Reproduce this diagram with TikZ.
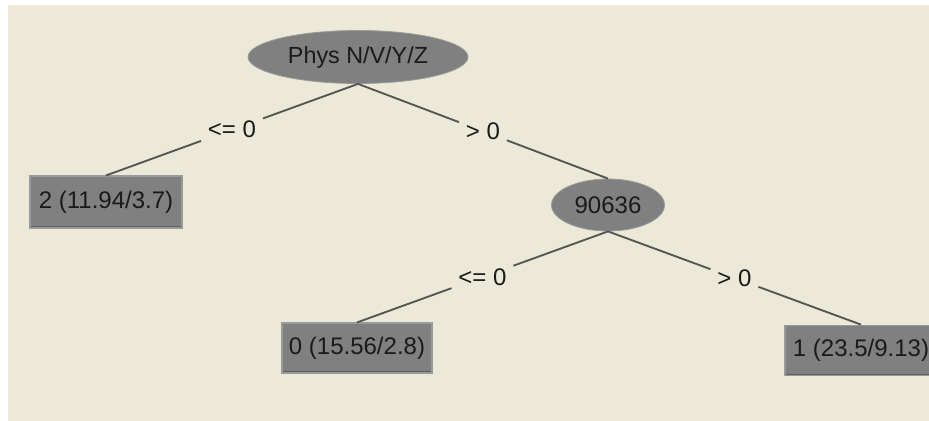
\documentclass[tikz,border=0pt]{standalone}
\usepackage{fontspec}
\setmainfont{Liberation Sans}
\usetikzlibrary{shapes.geometric}
\definecolor{bg}{HTML}{ECE9D8}
\definecolor{nodefill}{HTML}{808080}
\definecolor{nodeedge}{HTML}{9A9A9A}
\definecolor{darkedge}{HTML}{5E5E5E}
\definecolor{edgecol}{HTML}{555555}
\definecolor{txt}{HTML}{1A1A1A}
\tikzset{
  every node/.style={font=\fontsize{18}{21}\selectfont, text=txt},
  splitnode/.style={ellipse, fill=nodefill, draw=nodeedge, line width=0.6pt, inner sep=0pt},
  leafnode/.style={rectangle, fill=nodefill, draw=nodeedge, line width=0.8pt, inner sep=0pt,
    path picture={\draw[darkedge, line width=3pt] (path picture bounding box.south west) -- (path picture bounding box.south east);}},
  edgelabel/.style={inner sep=5pt},
  branch/.style={draw=edgecol, line width=1.4pt}
}
\begin{document}
\begin{tikzpicture}[x=0.75pt, y=-0.75pt]
\useasboundingbox (0,0) rectangle (929,421);
\fill[white] (0,0) rectangle (929,421);
\fill[bg] (8,5) rectangle (929,421);

\node[splitnode, minimum width=165pt, minimum height=39.75pt, font=\fontsize{17.5}{21}\selectfont] (root) at (358,57) {Phys N/V/Y/Z};
\node[splitnode, minimum width=84.75pt, minimum height=39pt] (n2) at (608,205) {90636};
\node[leafnode, minimum width=114pt, minimum height=39pt] (leafa) at (106,202) {2 (11.94/3.7)};
\node[leafnode, minimum width=112.5pt, minimum height=37.5pt] (leafb) at (357,348) {0 (15.56/2.8)};
\node[leafnode, minimum width=114pt, minimum height=38pt] (leafc) at (861,350.5) {1 (23.5/9.13)};

\path (root.south) -- (leafa.north) node[midway, edgelabel] (ea) {<= 0};
\path (root.south) -- (n2.north) node[midway, edgelabel] (eb) {> 0};
\path (n2.south) -- (leafb.north) node[midway, edgelabel] (ec) {<= 0};
\path (n2.south) -- (leafc.north) node[midway, edgelabel] (ed) {> 0};

\draw[branch] (root.south) -- (ea);
\draw[branch] (ea) -- (leafa.north);
\draw[branch] (root.south) -- (eb);
\draw[branch] (eb) -- (n2.north);
\draw[branch] (n2.south) -- (ec);
\draw[branch] (ec) -- (leafb.north);
\draw[branch] (n2.south) -- (ed);
\draw[branch] (ed) -- (leafc.north);
\end{tikzpicture}
\end{document}
